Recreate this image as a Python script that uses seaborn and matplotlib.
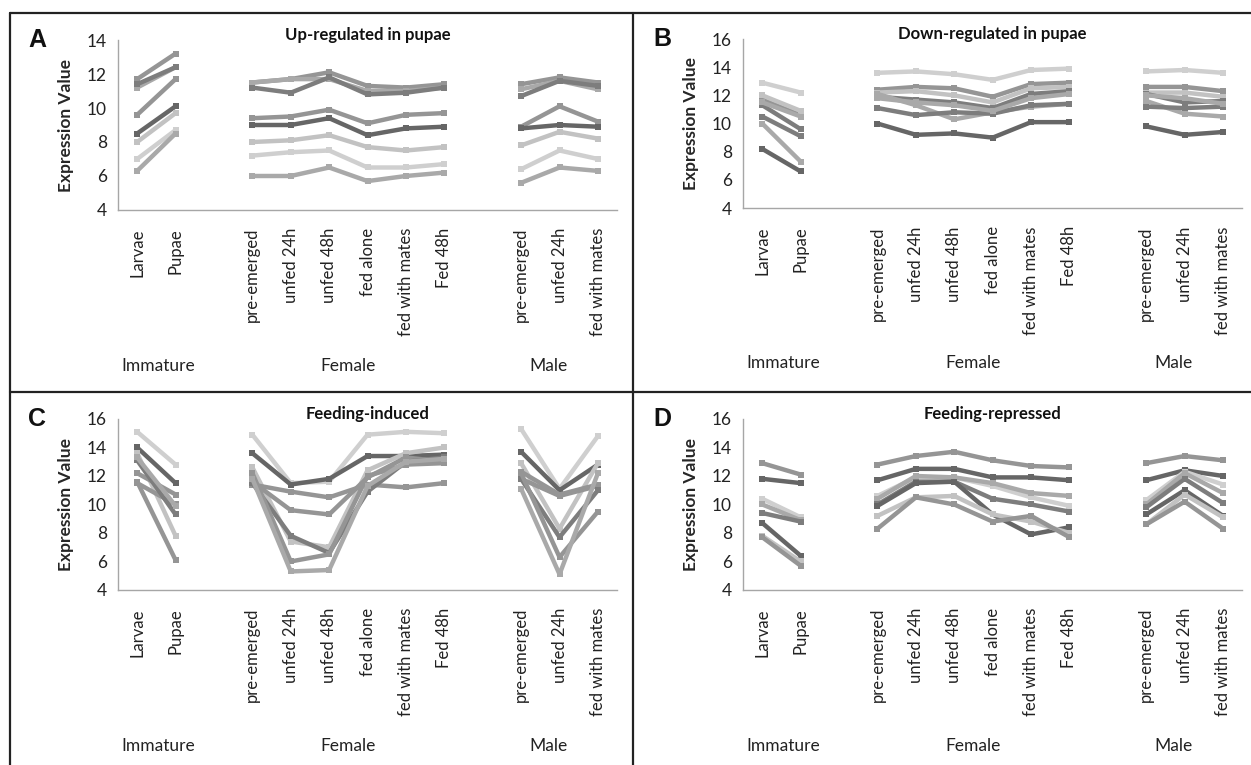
import numpy as np
import pandas as pd
import seaborn as sns
import matplotlib.pyplot as plt
from matplotlib.lines import Line2D

sns.set_theme(style="white")
plt.rcParams['font.family'] = ['Lato', 'DejaVu Sans']

# category slots along the x axis (empty strings are the gaps between groups)
stages = ['Larvae', 'Pupae', '',
          'pre-emerged', 'unfed 24h', 'unfed 48h', 'fed alone', 'fed with mates', 'Fed 48h', '',
          'pre-emerged', 'unfed 24h', 'fed with mates']
groups = ['Immature', 'Female', 'Male']
group_slots = [[0, 1], [3, 4, 5, 6, 7, 8], [10, 11, 12]]
group_label_x = [0.55, 5.5, 10.7]

shades = {'dark': '#666666', 'darkmid': '#7d7d7d', 'mid': '#959595',
          'midlight': '#a9a9a9', 'light': '#c2c2c2', 'lightest': '#cfcfcf'}

# values per gene: Larvae, Pupae | 6 female stages | 3 male stages
up_values = [
    [11.7, 13.2, 11.5, 11.7, 12.1, 11.3, 11.2, 11.4, 11.4, 11.8, 11.5],
    [11.2, 12.4, 11.5, 11.7, 11.7, 11.0, 11.0, 11.2, 11.1, 11.6, 11.1],
    [11.4, 12.4, 11.2, 10.9, 11.8, 10.8, 10.9, 11.2, 10.7, 11.6, 11.3],
    [9.6, 11.7, 9.4, 9.5, 9.9, 9.1, 9.6, 9.7, 8.9, 10.1, 9.2],
    [8.5, 10.1, 9.0, 9.0, 9.4, 8.4, 8.8, 8.9, 8.8, 9.0, 8.9],
    [8.0, 9.7, 8.0, 8.1, 8.4, 7.7, 7.5, 7.7, 7.8, 8.6, 8.2],
    [7.0, 8.7, 7.2, 7.4, 7.5, 6.5, 6.5, 6.7, 6.4, 7.5, 7.0],
    [6.3, 8.5, 6.0, 6.0, 6.5, 5.7, 6.0, 6.2, 5.6, 6.5, 6.3],
]
up_shades = ['mid', 'midlight', 'darkmid', 'mid', 'dark', 'light', 'lightest', 'midlight']

down_values = [
    [12.9, 12.2, 13.6, 13.7, 13.5, 13.1, 13.8, 13.9, 13.7, 13.8, 13.6],
    [11.7, 10.6, 12.4, 12.6, 12.5, 11.9, 12.8, 12.9, 12.6, 12.6, 12.3],
    [12.0, 10.9, 12.2, 12.3, 12.0, 11.5, 12.5, 12.6, 12.2, 12.2, 11.9],
    [11.3, 9.6, 11.9, 11.7, 11.5, 11.1, 12.1, 12.3, 12.1, 11.5, 11.6],
    [10.0, 7.3, 12.1, 11.3, 10.3, 10.8, 11.2, 11.4, 11.6, 10.7, 10.5],
    [10.5, 9.1, 11.1, 10.6, 10.8, 10.7, 11.3, 11.4, 11.2, 11.1, 11.2],
    [8.2, 6.6, 10.0, 9.2, 9.3, 9.0, 10.1, 10.1, 9.8, 9.2, 9.4],
    [11.5, 10.5, 11.8, 11.5, 11.3, 10.9, 11.8, 12.1, 12.0, 11.8, 11.4],
]
down_shades = ['lightest', 'mid', 'light', 'darkmid', 'midlight', 'darkmid', 'dark', 'midlight']

induced_values = [
    [15.1, 12.8, 14.9, 11.5, 11.6, 14.9, 15.1, 15.0, 15.3, 11.1, 14.8],
    [14.0, 11.5, 13.6, 11.4, 11.8, 13.4, 13.4, 13.5, 13.7, 11.0, 12.8],
    [13.6, 7.8, 12.6, 7.4, 7.0, 12.4, 13.6, 14.0, 12.9, 8.3, 12.9],
    [12.2, 10.7, 11.6, 9.6, 9.3, 11.9, 13.3, 13.0, 12.3, 10.7, 11.4],
    [11.5, 10.0, 11.4, 10.9, 10.5, 11.4, 11.2, 11.5, 11.8, 10.6, 11.3],
    [13.1, 9.3, 11.5, 7.8, 6.6, 10.9, 13.0, 13.3, 11.8, 7.7, 11.0],
    [11.6, 6.1, 12.2, 6.0, 6.5, 12.0, 12.8, 12.9, 12.2, 6.3, 9.5],
    [13.3, 9.9, 11.8, 5.3, 5.4, 11.3, 13.0, 13.2, 11.1, 5.1, 12.2],
]
induced_shades = ['lightest', 'dark', 'light', 'mid', 'mid', 'darkmid', 'mid', 'midlight']

repressed_values = [
    [12.9, 12.1, 12.8, 13.4, 13.7, 13.1, 12.7, 12.6, 12.9, 13.4, 13.1],
    [11.8, 11.5, 11.7, 12.5, 12.5, 11.9, 11.9, 11.7, 11.7, 12.4, 12.0],
    [10.4, 9.1, 10.6, 11.9, 11.9, 11.3, 10.5, 9.9, 10.3, 12.3, 11.4],
    [10.0, 8.9, 10.4, 12.0, 11.9, 11.5, 10.8, 10.6, 10.0, 12.2, 10.8],
    [9.4, 8.8, 10.0, 11.6, 11.6, 10.4, 10.0, 9.5, 9.8, 11.8, 10.1],
    [8.7, 6.4, 9.9, 11.5, 11.6, 9.3, 7.9, 8.4, 9.3, 11.0, 9.2],
    [7.8, 6.0, 9.2, 10.5, 10.6, 9.3, 8.8, 8.0, 8.6, 10.7, 9.1],
    [7.7, 5.7, 8.3, 10.5, 10.0, 8.8, 9.2, 7.7, 8.6, 10.2, 8.3],
]
repressed_shades = ['mid', 'dark', 'lightest', 'midlight', 'darkmid', 'dark', 'light', 'mid']

panels = [
    ('A', 'Up-regulated in pupae', up_values, up_shades, 14),
    ('B', 'Down-regulated in pupae', down_values, down_shades, 16),
    ('C', 'Feeding-induced', induced_values, induced_shades, 16),
    ('D', 'Feeding-repressed', repressed_values, repressed_shades, 16),
]
# axes rectangles in figure fractions
rects = [
    [0.0943, 0.7255, 0.399, 0.2222],
    [0.5940, 0.7280, 0.399, 0.2210],
    [0.0943, 0.2288, 0.399, 0.2235],
    [0.5940, 0.2288, 0.399, 0.2235],
]

fig = plt.figure(figsize=(12.51, 7.65), dpi=100)
axis_grey = '#a6a6a6'

for (letter, title, values, shade_names, ymax), rect in zip(panels, rects):
    ax = fig.add_axes(rect)
    rows = []
    for gi, vals in enumerate(values):
        k = 0
        for grp, slots in zip(groups, group_slots):
            for s in slots:
                rows.append({'gene': f'g{gi}', 'seg': f'g{gi}-{grp}', 'pos': s, 'value': vals[k]})
                k += 1
    df = pd.DataFrame(rows)
    palette = {f'g{i}': shades[n] for i, n in enumerate(shade_names)}
    sns.lineplot(data=df, x='pos', y='value', hue='gene', units='seg', estimator=None,
                 palette=palette, linewidth=3.2, marker='s', markersize=4.5,
                 markeredgewidth=0, legend=False, ax=ax)

    ax.set_xlim(-0.5, len(stages) - 0.5)
    ax.set_ylim(4, ymax)
    ax.set_yticks(np.arange(4, ymax + 1, 2))
    ax.tick_params(axis='y', length=0, labelsize=12.5, pad=8, colors='#222222')
    ax.set_xticks(np.arange(-0.5, len(stages), 1.0))
    ax.set_xticklabels([])
    ax.set_xticks(np.arange(len(stages)), minor=True)
    ax.set_xticklabels(stages, minor=True, rotation=90, fontsize=12, color='#222222')
    ax.tick_params(axis='x', which='major', length=5, width=1, color=axis_grey, direction='out')
    ax.tick_params(axis='x', which='minor', length=0, pad=13)
    ax.set_xlabel('')
    ax.set_ylabel('Expression Value', fontsize=12.5, fontweight='bold', labelpad=9)
    for side in ['top', 'right']:
        ax.spines[side].set_visible(False)
    for side in ['left', 'bottom']:
        ax.spines[side].set_color(axis_grey)
        ax.spines[side].set_linewidth(1)

    for gx, gname in zip(group_label_x, groups):
        ax.text(gx, -0.915, gname, transform=ax.get_xaxis_transform(),
                ha='center', va='center', fontsize=12.5, color='#222222')
    ax.text(0.5, 1.03, title, transform=ax.transAxes, ha='center', va='center',
            fontsize=12, fontweight='bold', color='#111111')
    ax.text(-0.162, 1.0, letter, transform=ax.transAxes, ha='center', va='center',
            fontsize=18, fontweight='bold', color='#111111', family=['Liberation Sans', 'DejaVu Sans'])

# panel frames
W, H = 1251, 765
def frame_line(x0, y0, x1, y1):
    fig.add_artist(Line2D([x0 / W, x1 / W], [1 - y0 / H, 1 - y1 / H], color='#222222', lw=1.6))

frame_line(10, 13, 1251, 13)
frame_line(10, 13, 10, 765)
frame_line(633, 13, 633, 765)
frame_line(10, 392, 1251, 392)

fig.savefig('out.png', dpi=100)
